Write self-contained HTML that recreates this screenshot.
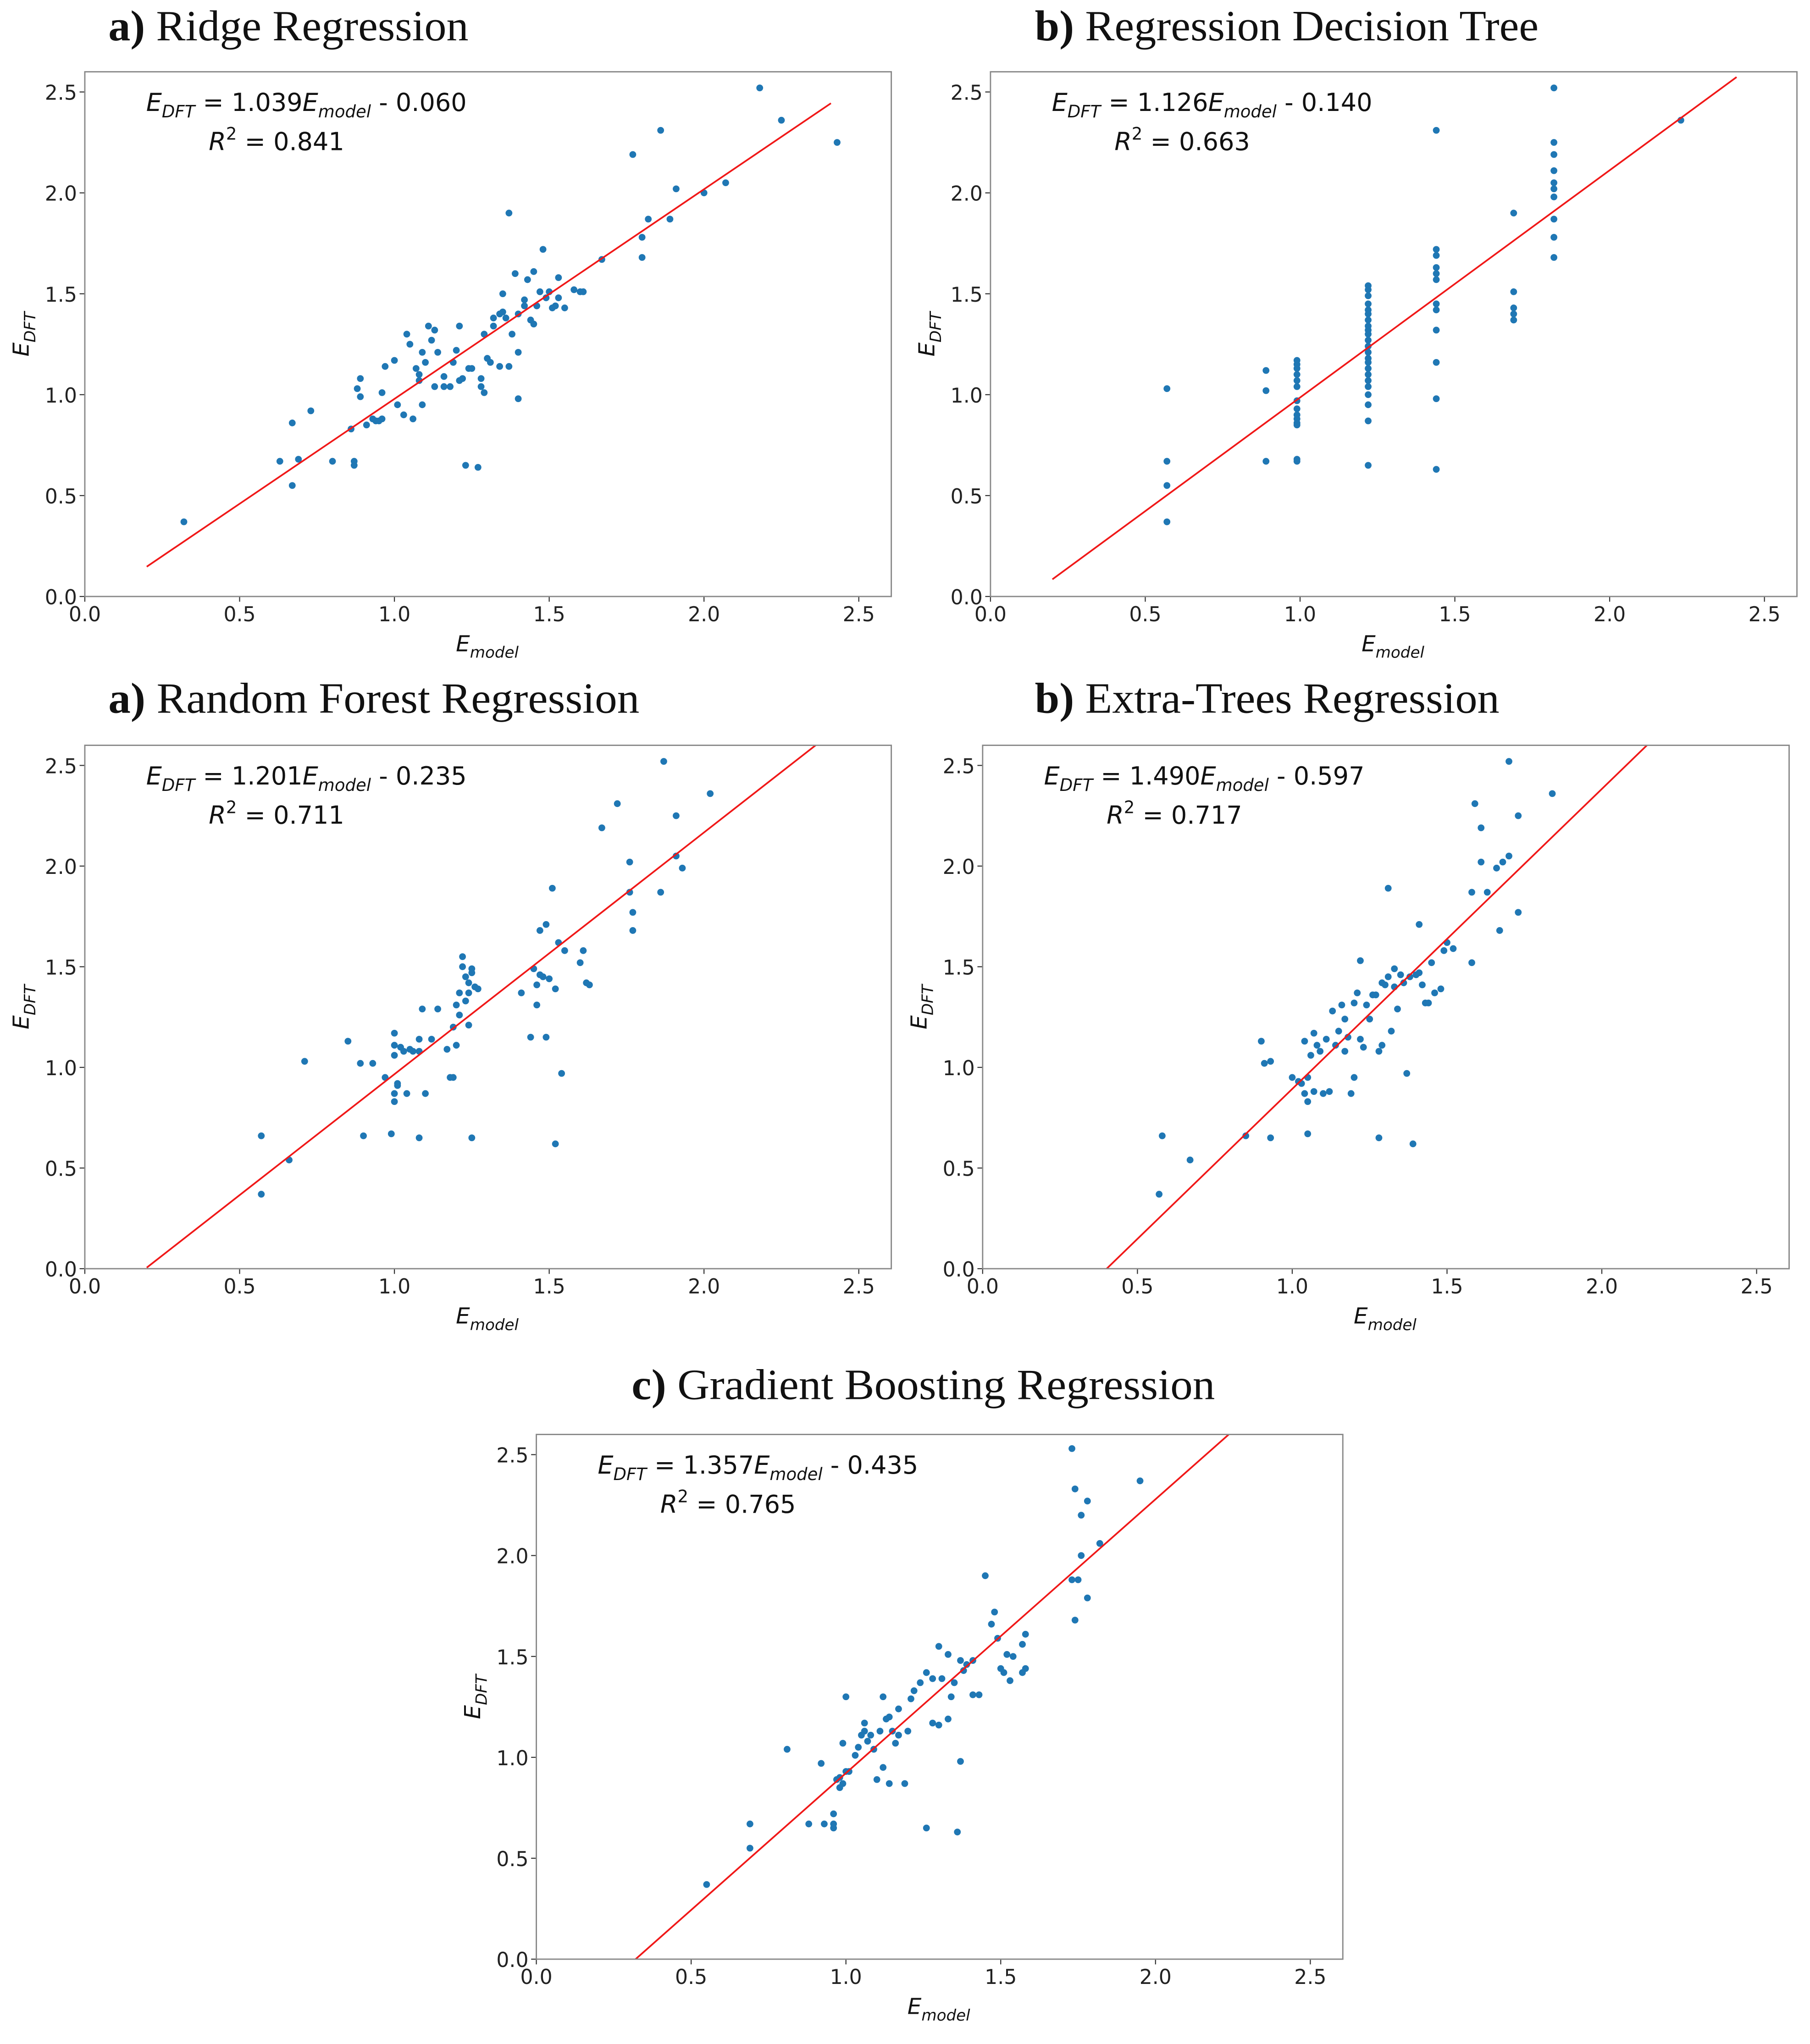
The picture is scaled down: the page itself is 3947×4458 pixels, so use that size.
<!DOCTYPE html>
<html><head><meta charset="utf-8">
<style>
html,body{margin:0;padding:0;background:#fff;}
svg{display:block;}
.tick{font-family:"DejaVu Sans","Liberation Sans",sans-serif;font-size:15.5px;fill:#222;}
.title{font-family:"Liberation Serif",serif;font-size:33px;fill:#111;}
.ann{font-family:"DejaVu Sans","Liberation Sans",sans-serif;font-size:19px;fill:#111;}
.lab{font-family:"DejaVu Sans","Liberation Sans",sans-serif;font-size:17px;fill:#111;}
</style></head>
<body>
<svg id="fig" width="3947" height="4458" viewBox="0 0 1387 1566" preserveAspectRatio="none" xmlns="http://www.w3.org/2000/svg">
<rect width="1387" height="1566" fill="#fff"/>
<text class="title" x="83" y="31" textLength="276" lengthAdjust="spacingAndGlyphs"><tspan font-weight="bold">a)</tspan> Ridge Regression</text>
<text class="title" x="793" y="31" textLength="386" lengthAdjust="spacingAndGlyphs"><tspan font-weight="bold">b)</tspan> Regression Decision Tree</text>
<text class="title" x="83" y="546" textLength="407" lengthAdjust="spacingAndGlyphs"><tspan font-weight="bold">a)</tspan> Random Forest Regression</text>
<text class="title" x="793" y="546" textLength="356" lengthAdjust="spacingAndGlyphs"><tspan font-weight="bold">b)</tspan> Extra-Trees Regression</text>
<text class="title" x="484" y="1072" textLength="447" lengthAdjust="spacingAndGlyphs"><tspan font-weight="bold">c)</tspan> Gradient Boosting Regression</text>
</svg>
<script>
const xTicks=[0,0.5,1.0,1.5,2.0,2.5];
const yTicks=[0,0.5,1.0,1.5,2.0,2.5];
const tickLabels=["0.0","0.5","1.0","1.5","2.0","2.5"];
const ridgePts=[[0.32,0.37],[0.63,0.67],[0.67,0.86],[0.67,0.55],[0.69,0.68],[0.73,0.92],[0.80,0.67],[0.86,0.83],[0.87,0.67],[0.88,1.03],[0.87,0.65],[0.89,1.08],[0.89,0.99],[0.91,0.85],[0.93,0.88],[0.94,0.87],[0.95,0.87],[0.96,0.88],[0.96,1.01],[0.97,1.14],[1.00,1.17],[1.01,0.95],[1.03,0.90],[1.04,1.30],[1.05,1.25],[1.06,0.88],[1.07,1.13],[1.08,1.10],[1.08,1.07],[1.09,1.21],[1.09,0.95],[1.10,1.16],[1.11,1.34],[1.12,1.27],[1.13,1.32],[1.13,1.04],[1.14,1.21],[1.16,1.04],[1.16,1.09],[1.18,1.04],[1.19,1.16],[1.20,1.22],[1.21,1.34],[1.21,1.07],[1.22,1.08],[1.23,0.65],[1.24,1.13],[1.25,1.13],[1.27,0.64],[1.28,1.08],[1.28,1.04],[1.29,1.01],[1.29,1.30],[1.30,1.18],[1.31,1.16],[1.32,1.34],[1.32,1.38],[1.34,1.14],[1.34,1.40],[1.35,1.50],[1.35,1.41],[1.36,1.38],[1.37,1.14],[1.37,1.90],[1.38,1.30],[1.39,1.60],[1.40,1.21],[1.40,1.40],[1.40,0.98],[1.42,1.47],[1.42,1.44],[1.43,1.57],[1.44,1.37],[1.45,1.35],[1.45,1.61],[1.46,1.44],[1.47,1.51],[1.48,1.72],[1.49,1.48],[1.50,1.51],[1.51,1.43],[1.52,1.44],[1.53,1.48],[1.53,1.58],[1.55,1.43],[1.58,1.52],[1.60,1.51],[1.61,1.51],[1.67,1.67],[1.77,2.19],[1.80,1.78],[1.80,1.68],[1.82,1.87],[1.86,2.31],[1.89,1.87],[1.91,2.02],[2.00,2.00],[2.07,2.05],[2.18,2.52],[2.25,2.36],[2.43,2.25]];
const treeX=[0.57,0.89,0.99,1.22,1.44,1.69,1.82,2.23];
const treeY=[[1.03,0.67,0.55,0.37],[1.12,1.02,0.67],[1.17,1.15,1.13,1.10,1.07,1.04,0.97,0.93,0.90,0.88,0.86,0.85,0.68,0.67],[1.54,1.52,1.49,1.45,1.42,1.40,1.37,1.34,1.32,1.30,1.27,1.24,1.21,1.18,1.16,1.13,1.10,1.07,1.04,1.00,0.95,0.87,0.65],[2.31,1.72,1.69,1.63,1.60,1.57,1.45,1.42,1.32,1.16,0.98,0.63],[1.90,1.51,1.43,1.40,1.37],[2.52,2.25,2.19,2.11,2.05,2.02,1.98,1.87,1.78,1.68],[2.36]];
const rfPts=[[0.57,0.37],[0.57,0.66],[0.66,0.54],[0.71,1.03],[0.85,1.13],[0.89,1.02],[0.90,0.66],[0.93,1.02],[0.97,0.95],[0.99,0.67],[1.00,1.17],[1.00,1.11],[1.00,1.06],[1.00,0.87],[1.00,0.83],[1.01,0.92],[1.01,0.91],[1.02,1.10],[1.03,1.08],[1.04,0.87],[1.05,1.09],[1.06,1.08],[1.08,1.08],[1.08,1.14],[1.08,0.65],[1.09,1.29],[1.10,0.87],[1.12,1.14],[1.14,1.29],[1.17,1.09],[1.18,0.95],[1.19,0.95],[1.19,1.20],[1.20,1.31],[1.20,1.11],[1.21,1.26],[1.21,1.37],[1.22,1.55],[1.22,1.50],[1.23,1.45],[1.23,1.33],[1.24,1.42],[1.24,1.37],[1.24,1.21],[1.25,0.65],[1.25,1.49],[1.25,1.47],[1.26,1.40],[1.27,1.39],[1.41,1.37],[1.44,1.15],[1.45,1.49],[1.46,1.31],[1.46,1.41],[1.47,1.46],[1.47,1.68],[1.48,1.45],[1.49,1.71],[1.49,1.15],[1.50,1.44],[1.51,1.89],[1.52,1.39],[1.52,0.62],[1.53,1.62],[1.54,0.97],[1.55,1.58],[1.60,1.52],[1.61,1.58],[1.62,1.42],[1.63,1.41],[1.67,2.19],[1.72,2.31],[1.76,2.02],[1.76,1.87],[1.77,1.77],[1.77,1.68],[1.86,1.87],[1.87,2.52],[1.91,2.25],[1.91,2.05],[1.93,1.99],[2.02,2.36]];
const etPts=[[0.57,0.37],[0.58,0.66],[0.67,0.54],[0.85,0.66],[0.90,1.13],[0.91,1.02],[0.93,1.03],[0.93,0.65],[1.00,0.95],[1.02,0.93],[1.03,0.92],[1.04,0.87],[1.04,1.13],[1.05,0.95],[1.05,0.83],[1.05,0.67],[1.06,1.06],[1.07,1.17],[1.07,0.88],[1.08,1.11],[1.09,1.08],[1.10,0.87],[1.11,1.14],[1.12,0.88],[1.13,1.28],[1.14,1.11],[1.15,1.18],[1.16,1.31],[1.17,1.08],[1.17,1.24],[1.18,1.15],[1.19,0.87],[1.20,0.95],[1.20,1.32],[1.21,1.37],[1.22,1.14],[1.22,1.53],[1.23,1.10],[1.24,1.31],[1.25,1.24],[1.26,1.36],[1.27,1.36],[1.28,1.08],[1.28,0.65],[1.29,1.42],[1.29,1.11],[1.30,1.41],[1.31,1.45],[1.31,1.89],[1.32,1.18],[1.33,1.49],[1.33,1.40],[1.34,1.29],[1.35,1.46],[1.36,1.42],[1.37,0.97],[1.38,1.45],[1.39,0.62],[1.40,1.46],[1.41,1.47],[1.41,1.71],[1.42,1.41],[1.43,1.32],[1.44,1.32],[1.45,1.52],[1.46,1.37],[1.48,1.39],[1.49,1.58],[1.50,1.62],[1.52,1.59],[1.58,1.52],[1.58,1.87],[1.59,2.31],[1.61,2.02],[1.61,2.19],[1.63,1.87],[1.66,1.99],[1.67,1.68],[1.68,2.02],[1.70,2.52],[1.70,2.05],[1.73,2.25],[1.73,1.77],[1.84,2.36]];
const gbPts=[[0.55,0.37],[0.69,0.67],[0.69,0.55],[0.81,1.04],[0.88,0.67],[0.92,0.97],[0.93,0.67],[0.96,0.67],[0.96,0.72],[0.96,0.65],[0.97,0.89],[0.98,0.85],[0.98,0.90],[0.99,0.87],[0.99,1.07],[1.00,0.93],[1.00,1.30],[1.01,0.93],[1.03,1.01],[1.04,1.05],[1.05,1.11],[1.06,1.17],[1.06,1.13],[1.07,1.08],[1.08,1.11],[1.09,1.04],[1.10,0.89],[1.11,1.13],[1.12,0.95],[1.12,1.30],[1.13,1.19],[1.14,0.87],[1.14,1.20],[1.15,1.13],[1.16,1.07],[1.17,1.24],[1.17,1.11],[1.19,0.87],[1.20,1.13],[1.21,1.29],[1.22,1.33],[1.24,1.37],[1.26,1.42],[1.26,0.65],[1.28,1.17],[1.28,1.39],[1.30,1.55],[1.30,1.16],[1.31,1.39],[1.33,1.19],[1.33,1.51],[1.34,1.30],[1.35,1.37],[1.36,0.63],[1.37,1.48],[1.37,0.98],[1.38,1.43],[1.39,1.46],[1.41,1.31],[1.41,1.48],[1.43,1.31],[1.45,1.90],[1.47,1.66],[1.48,1.72],[1.49,1.59],[1.50,1.44],[1.51,1.42],[1.52,1.51],[1.53,1.38],[1.54,1.50],[1.57,1.42],[1.57,1.56],[1.58,1.61],[1.58,1.44],[1.73,2.53],[1.73,1.88],[1.74,2.33],[1.74,1.68],[1.75,1.88],[1.76,2.00],[1.76,2.20],[1.78,2.27],[1.78,1.79],[1.82,2.06],[1.95,2.37]];
const slopes=[1.039,1.126,1.201,1.490,1.357];
const intercepts=[0.060,0.140,0.235,0.597,0.435];
const r2s=["0.841","0.663","0.711","0.717","0.765"];

const NS="http://www.w3.org/2000/svg";
const svg=document.getElementById('fig');
const XMAX=2.605, YMAX=2.6;
function mk(tag,attrs,parent){const e=document.createElementNS(NS,tag);for(const k in attrs)e.setAttribute(k,attrs[k]);(parent||svg).appendChild(e);return e;}

function panel(key,L,T,W,H,pts,k){
  const g=mk('g',{});
  
  
  const sx=v=>L+v/XMAX*W, sy=v=>T+H-v/YMAX*H;
  const clipId='clip-'+key;
  const cp=mk('clipPath',{id:clipId},g);mk('rect',{x:L,y:T,width:W,height:H},cp);
  xTicks.forEach((v,i)=>{
    const t=mk('line',{x1:sx(v),x2:sx(v),y1:T+H,y2:T+H+4,stroke:'#333','stroke-width':0.8},g);
    
    
    const tx=mk('text',{x:sx(v),y:T+H+19,'text-anchor':'middle',class:'tick'},g);tx.textContent=tickLabels[i];
    
    
  });
  yTicks.forEach((v,i)=>{
    const t=mk('line',{x1:L-4,x2:L,y1:sy(v),y2:sy(v),stroke:'#333','stroke-width':0.8},g);
    
    
    const ty=mk('text',{x:L-6,y:sy(v)+6,'text-anchor':'end',class:'tick'},g);ty.textContent=tickLabels[i];
    
    
  });
  const inner=mk('g',{'clip-path':'url(#'+clipId+')'},g);
  pts.forEach(p=>{
    const c=mk('circle',{cx:sx(p[0]),cy:sy(p[1]),r:2.6,fill:'#1f77b4'},inner);
    
    
  });
  const a=slopes[k], b=intercepts[k];
  const x1=0.2, x2=Math.min(2.41,(YMAX+b)/a);
  const ln=mk('line',{x1:sx(x1),y1:sy(a*x1-b),x2:sx(x2),y2:sy(a*x2-b),stroke:'#f01818','stroke-width':1.3},inner);
  
  
  const box=mk('rect',{x:L,y:T,width:W,height:H,fill:'none',stroke:'#888','stroke-width':1},g);
  
  
  const eq=mk('text',{x:L+47,y:T+30,class:'ann'},g);
  eq.innerHTML='<tspan font-style="italic">E</tspan><tspan font-style="italic" font-size="13" dy="5">DFT</tspan><tspan dy="-5"> = '+a.toFixed(3)+'</tspan><tspan font-style="italic">E</tspan><tspan font-style="italic" font-size="13" dy="5">model</tspan><tspan dy="-5"> - '+b.toFixed(3)+'</tspan>';
  
  
  const r=mk('text',{x:L+95,y:T+60,class:'ann'},g);
  r.innerHTML='<tspan font-style="italic">R</tspan><tspan font-size="13" dy="-8">2</tspan><tspan dy="8"> = '+r2s[k]+'</tspan>';
  
  
  const xl=mk('text',{x:sx(1.3),y:T+H+42,'text-anchor':'middle',class:'lab'},g);
  xl.innerHTML='<tspan font-style="italic">E</tspan><tspan font-style="italic" font-size="12" dy="5">model</tspan>';
  
  
  const yl=mk('text',{x:0,y:0,'text-anchor':'middle',class:'lab',transform:'translate('+(L-43)+','+(T+H/2)+') rotate(-90)'},g);
  yl.innerHTML='<tspan font-style="italic">E</tspan><tspan font-style="italic" font-size="12" dy="5">DFT</tspan>';
  
  
}
const treePts=[];
treeX.forEach((x,i)=>treeY[i].forEach(y=>treePts.push([x,y])));
panel('ridge',65,55,618,402,ridgePts,0);
panel('decision-tree',759,55,618,402,treePts,1);
panel('random-forest',65,571,618,401,rfPts,2);
panel('extra-trees',753,571,618,401,etPts,3);
panel('gradient-boosting',411,1099,618,402,gbPts,4);
</script>
</body></html>
